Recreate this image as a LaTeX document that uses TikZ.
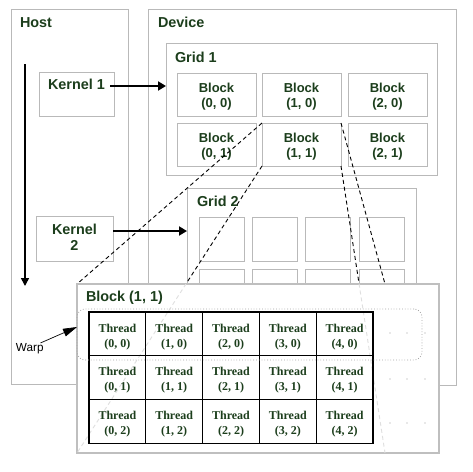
\documentclass[tikz,border=0pt]{standalone}
\usepackage{fontspec}
\setmainfont{Liberation Serif}
\setsansfont{Liberation Sans}
\usetikzlibrary{arrows.meta,calc}
\definecolor{txt}{RGB}{28,62,28}
\definecolor{bx}{RGB}{185,185,185}
\tikzset{
  box/.style={draw=bx, line width=1pt, fill=white, inner sep=0pt, outer sep=0pt, anchor=north west},
  lbl/.style={inner sep=0pt, outer sep=0pt, anchor=base west, text=txt, font=\sffamily\bfseries\fontsize{14.4}{17}\selectfont},
  blockbox/.style={box, minimum width=79pt, minimum height=43pt},
  blocktxt/.style={inner sep=0pt, outer sep=0pt, yshift=-2.5pt, align=center, text=txt, font=\sffamily\bfseries\fontsize{13}{15}\selectfont},
  cellbox/.style={box, minimum width=45.5pt, minimum height=44pt},
  threadbox/.style={draw=black, line width=1.2pt, inner sep=0pt, outer sep=0pt, anchor=north west, minimum width=56.8pt, minimum height=43.7pt},
  threadtxt/.style={inner sep=0pt, outer sep=0pt, yshift=-3pt, align=center, text=txt, font=\rmfamily\bfseries\fontsize{12}{15}\selectfont},
  bigarrow/.style={line width=1.8pt, -{Triangle[length=8pt,width=9pt]}},
  zoomline/.style={dashed, dash pattern=on 4pt off 3pt, line width=0.9pt},
  faintline/.style={zoomline, draw=gray!25},
}
\begin{document}
\begin{tikzpicture}[x=1pt,y=-1pt]
\useasboundingbox (0,0) rectangle (473,471);
% host and device
\node[box, minimum width=117pt, minimum height=375pt] (host) at (11,9) {};
\node[box, minimum width=308pt, minimum height=376pt] (device) at (148,9) {};
\node[lbl] (hostlbl) at (20,27) {Host};
\node[lbl] (devlbl) at (158,27) {Device};
% grid 1
\node[box, minimum width=271pt, minimum height=132pt] (grid1) at (166,43) {};
\node[lbl] (g1lbl) at (175,62) {Grid 1};
\foreach \i/\x in {0/177,1/262,2/348}{
  \node[blockbox] (b\i0) at (\x,73) {};
  \node[blocktxt] (bt\i0) at (b\i0) {Block\\(\i, 0)};
  \node[blockbox] (b\i1) at (\x,123) {};
  \node[blocktxt] (bt\i1) at (b\i1) {Block\\(\i, 1)};
}
% grid 2
\node[box, minimum width=229pt, minimum height=150pt] (grid2) at (187,188) {};
\node[lbl] (g2lbl) at (197,206) {Grid 2};
\foreach \i/\x in {0/199,1/252,2/305,3/359}{
  \node[cellbox] (c\i0) at (\x,217) {};
  \node[cellbox] (c\i1) at (\x,269) {};
}
% kernels
\node[box, minimum width=75pt, minimum height=44pt] (k1) at (39,72) {};
\node[lbl] (k1lbl) at (48,89) {Kernel 1};
\node[box, minimum width=77pt, minimum height=45pt] (k2) at (36,216) {};
\node[lbl, anchor=base] (k2lbla) at (74.5,234) {Kernel};
\node[lbl, anchor=base] (k2lblb) at (74.5,250) {2};
\coordinate (k2out) at (113,231);
\coordinate (k1out) at (110,86);
\draw[bigarrow] (k1out) -- (k1out -| grid1.west);
\draw[bigarrow] (k2out) -- (k2out -| grid2.west);
% host time arrow
\coordinate (tstart) at (25,64);
\coordinate (tend) at (25,286);
\draw[line width=1.5pt, -{Triangle[length=8pt,width=8pt]}] (tstart) -- (tend);
% zoom lines
\coordinate (pnw) at (77,284);
\coordinate (psw) at (77,453);
\coordinate (pne) at (385,284);
\coordinate (pse) at (385,453);
\draw[zoomline] (b11.north west) -- (pnw);
\draw[zoomline] (b11.south west) -- (psw);
\draw[zoomline] (b11.north east) -- (pne);
\draw[zoomline] (b11.south east) -- (pse);
% panel
\node[box, draw=gray!50, line width=1.4pt, minimum width=362pt, minimum height=169pt] (panel) at (77,284) {};
\begin{scope}
  \clip (panel.north west) rectangle (panel.south east);
  \draw[faintline] (b11.south west) -- (psw);
  \draw[faintline] (b11.south east) -- (pse);
\end{scope}
\node[lbl] (panellbl) at (86,301) {Block (1, 1)};
% threads
\foreach \i/\x in {0/89,1/145.8,2/202.6,3/259.4,4/316.2}{
  \foreach \j/\y in {0/312,1/355.7,2/399.4}{
    \node[threadbox] (t\i\j) at (\x,\y) {};
    \node[threadtxt] (tt\i\j) at (t\i\j) {Thread\\(\i, \j)};
  }
}
% dots
\foreach \x in {390,407,425}{
  \foreach \y in {333,379,423}{
    \fill[gray!35] (\x,\y) circle (0.9pt);
  }
}
% warp
\node[draw=gray!70, dotted, line width=0.8pt, rounded corners=8pt, inner sep=0pt, outer sep=0pt, anchor=north west, minimum width=345pt, minimum height=51pt] (warp) at (77,309) {};
\node[inner sep=0pt, outer sep=0pt, anchor=base west, font=\sffamily\fontsize{11.7}{14}\selectfont] (warplbl) at (16,351) {Warp};
\coordinate (warpin) at (77,327);
\draw[line width=0.7pt, -{Triangle[length=14pt,width=8pt]}] ($(warplbl.north east)+(-3,0)$) -- (warpin);
\end{tikzpicture}
\end{document}
